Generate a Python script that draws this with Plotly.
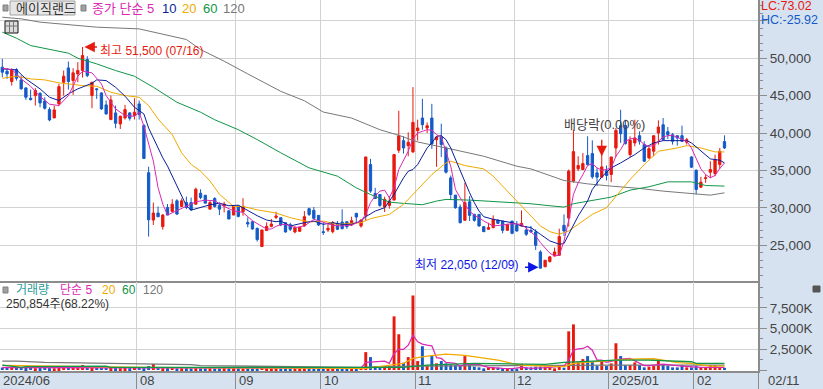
import plotly.graph_objects as go

open_ = [48800,48260,46880,48480,47100,46030,44650,45000,45300,44290,43130,42020,43890,46790,48700,47010,47900,48350,49820,45000,
45900,45360,43760,41790,42690,41210,42020,42690,42330,43890,41000,34690,28360,29300,27480,30040,29510,30930,30180,30700,
30700,30480,31950,31680,29820,31240,30350,30260,29600,29030,30260,29470,28050,28140,27260,24820,26950,27520,28720,28680,
28010,27750,26770,26860,27570,29880,29660,28990,26800,27030,26810,27920,28100,28140,27700,29250,27570,28990,35780,31920,
31780,30100,30320,31030,37690,38980,38310,37470,40310,42000,40670,42000,39110,39470,38000,34000,31700,30100,28320,30810,
29120,29120,27480,27120,27350,28370,28230,26990,28230,27660,27570,27030,26990,26770,24100,22110,22820,23570,23660,27660,
28630,33560,35210,35120,36980,37250,34670,34100,34940,34450,38000,40980,41020,37110,38670,39640,38450,36670,37560,40000,
41110,40180,39780,39640,39640,38760,36800,35030,32760,33920,34760,34580,35780,38850]
high = [49900,48660,48660,48660,47680,46100,45800,46000,45450,44780,43440,43670,46570,48350,49550,48660,49460,51500,50270,46790,
46000,45450,44340,45000,43670,42330,43760,42780,44650,44340,41200,35490,30700,30180,29160,30500,31150,31150,31240,31500,
31370,32700,32480,31680,30930,31420,30700,30800,29730,30350,30350,31280,28720,28270,27350,27040,28050,28500,29470,28680,
28010,28010,27570,27390,29560,30010,30100,28990,28010,28010,28230,28230,29790,28140,28810,29340,28460,36800,36540,32670,
31780,31480,31560,37110,42970,39560,40090,46130,41780,44570,41420,43900,39470,41240,38220,34320,31700,30450,33340,31560,
29210,29120,27480,28010,28990,28370,28230,27790,28230,28230,29650,27570,27570,27120,24330,22990,23570,24680,27210,29120,
35120,40440,36890,37340,39560,39020,35340,37250,35650,36800,40670,43110,41780,39560,41780,40220,38890,38220,39640,41690,
42000,40800,40000,39640,40980,39330,36890,35120,34140,34450,36230,37110,38000,39690]
low = [47460,47230,46340,47010,45800,44420,44340,43670,43440,43130,41570,41980,43580,45000,45800,45100,46790,47410,47460,43310,
44560,43090,42460,41750,40630,40540,41800,41660,41800,41800,36600,26150,27700,28800,27080,29030,29380,29030,30180,29820,
29600,30480,31150,30620,29820,30040,29030,29380,28500,29030,28720,28940,27390,27080,25490,24820,26950,27390,28500,27550,
26680,26900,26590,26770,27480,28900,28590,27570,26370,26770,26590,27030,27120,27210,27570,28100,27350,28230,32010,31250,
30140,29430,29880,31030,37340,37250,36890,37340,38980,40440,40000,37870,35470,36800,34580,31030,29880,27920,28320,28230,
28140,27480,26770,27120,27260,27920,26590,26900,26460,26810,27570,26240,26680,24370,21930,22110,22680,23480,23570,26240,
27480,33340,34900,35030,35650,33870,32900,34100,33650,33430,36800,38670,38450,36800,38220,38450,36140,36540,36890,38450,
39020,39200,38450,38310,38800,38450,35340,31790,32670,33340,34010,34230,35200,37870]
close = [48130,47900,48480,47320,45900,44780,44470,45670,44020,43310,41750,43090,46200,47590,46880,48040,48350,50360,47680,46790,
45800,43220,42550,44420,41300,42240,43130,41970,42780,42460,36600,28400,29300,28800,29030,29030,30480,29160,30930,30040,
29730,32480,31370,30620,30700,30180,29820,30480,28500,30180,28850,30180,27830,27170,25750,27040,27520,27830,28900,27700,
26770,27120,27350,27390,28810,29120,28590,27700,26700,27260,28010,27120,27210,27480,28280,28770,28370,36800,32230,31250,
30320,31120,30900,37110,39640,38000,38760,41420,40670,41110,40980,38530,39470,38450,34760,31780,30010,28010,30680,28990,
28320,27570,26810,27350,28460,27920,26990,27790,26590,26900,27920,26460,26770,24990,21930,22990,23440,24100,26150,26900,
34900,37510,35650,35910,35780,34140,34100,35470,34320,36800,40350,39910,38580,39020,39330,38890,36230,37910,39640,40800,
39110,39780,38890,39330,38890,39110,35430,32450,33430,34010,35120,36450,37560,38000]

volume = [300,280,320,250,260,240,280,220,240,260,230,210,240,260,280,250,270,600,260,240,
260,280,250,240,230,220,240,230,260,250,230,480,720,260,230,240,250,220,230,240,
220,240,210,220,230,200,210,240,220,230,210,200,220,210,220,260,240,210,200,220,
190,210,200,190,220,230,210,200,190,210,220,200,210,190,200,230,260,2160,1560,480,
480,480,400,6480,4320,880,1560,9000,1080,2870,520,1720,800,1080,800,600,600,480,1680,720,
400,320,200,320,320,280,200,200,120,160,720,320,320,400,400,400,320,200,480,280,
4670,5510,920,1320,1680,1000,480,1080,480,800,3230,1680,600,600,920,600,320,400,480,1320,
680,480,320,320,600,320,320,480,320,320,600,600,320,250]

ma5_i = [0,2,3,4,6,8,10,12,14,16,17,19,21,22,24,26,28,29,30,31,32,33,34,35,37,39,41,43,45,47,49,51,53,55,56,57,58,59,
60,62,64,66,68,70,72,74,76,77,78,79,80,81,82,83,84,85,86,87,88,89,90,91,92,93,94,95,96,97,98,99,100,101,102,103,104,106,108,110,112,113,
114,115,116,117,118,119,120,121,122,123,124,125,126,127,128,129,130,131,132,133,134,135,136,137,138,139,140,141,142,143,144,145,146,147,148,149,150,151,152,153]
ma5_v = [48660,48480,47900,47230,46250,44870,43850,43670,45000,47590,48260,48040,46570,45000,43220,42330,42240,42780,40900,38450,36240,32700,30490,29030,29600,30180,30800,31020,30930,30180,29600,29380,28270,27520,27170,27170,27520,27740,
27790,27350,27570,28460,28010,27660,27570,27700,28230,29120,30680,31560,32230,32360,31340,32670,35120,36450,37560,39200,40000,40220,40440,40360,39780,39470,37560,35560,32450,31340,30450,29560,28990,28680,28230,27880,27570,27700,27880,27790,26770,26240,
25350,24590,23930,23570,23660,25570,28370,31790,33340,34450,35650,35920,35340,35030,35120,35340,36890,37780,38890,39200,39330,39020,38450,38220,38310,38890,39470,39640,39690,39420,39200,38890,38000,36670,35200,34450,34010,34320,35250,36000]
ma10_i = [0,3,5,8,10,12,14,16,19,20,22,24,26,28,30,31,32,33,34,35,36,37,38,39,40,42,44,46,48,50,52,54,56,58,59,61,64,66,68,70,72,74,76,77,79,81,83,84,85,86,87,88,89,90,91,92,93,94,95,96,97,98,99,100,101,102,104,106,108,110,112,114,116,118,119,120,122,124,125,127,129,131,134,136,138,140,142,145,146,148,150,152,153]
ma10_v = [48570,48440,47230,45900,44780,44340,45230,45900,46650,47100,47010,46120,44920,43440,42550,40660,39340,38010,36680,35580,34250,32700,31370,30270,29690,30040,30400,30620,30270,30350,29600,28940,28360,28140,28230,27570,28010,28230,27790,28010,27790,27790,28230,28810,29560,30010,31790,32900,34000,34890,35120,35780,36890,38000,38670,39560,39640,39110,38000,36450,34890,33340,32010,30680,29560,28810,28460,28230,28010,27570,27350,26460,25570,25130,25220,26460,28900,30900,32450,34140,35340,36000,37110,38000,38670,38980,39020,38980,38670,37560,36540,36360,36000]
ma20_i = [0,3,6,9,12,15,17,20,23,26,29,31,33,36,38,40,42,44,46,49,51,54,58,61,65,68,71,76,78,82,85,88,91,94,95,98,102,104,107,110,112,114,116,118,120,122,125,128,130,133,136,139,143,145,148,151,153]
ma20_v = [47320,47590,47230,47100,46700,46430,46340,46250,45450,45000,44780,43670,41880,39780,37350,35800,34900,33590,31810,30180,30180,29730,29300,28680,28100,28230,27790,28010,28550,29120,30450,32450,34450,36000,36230,35650,35200,34230,32230,30230,28990,27570,26810,26460,26900,27790,29120,30010,31560,33780,35780,37560,38000,38310,38000,37470,37470]
ma60_i = [0,3,6,10,14,16,20,24,28,32,37,42,45,50,54,59,65,71,75,78,82,85,89,92,94,99,103,107,112,116,119,121,125,129,133,137,141,146,149,153]
ma60_v = [53480,52680,51690,51160,50670,50000,49240,48350,47590,46120,44110,42780,41770,40440,39120,37350,35340,34230,32670,31780,30760,30590,30410,30900,31120,31030,30900,30680,30540,30270,30100,30540,30990,31430,32360,32810,33470,33470,32980,32900]
ma120_i = [0,4,8,14,20,29,32,39,42,47,52,59,64,68,74,80,84,88,95,102,109,112,119,124,129,135,140,145,147,150,153]
ma120_v = [55480,55260,54820,54460,54150,53920,53480,52500,51160,49600,47900,45570,44310,42800,42000,40440,39690,38800,37870,36890,35560,35200,33650,33200,32900,32590,32230,32000,31870,31690,32000]

vma5_i = [0,20,40,60,76,77,80,81,82,83,84,85,86,87,88,89,90,91,92,93,94,95,96,97,98,100,101,102,103,106,108,110,112,115,118,119,120,121,122,123,124,125,126,127,128,130,131,133,134,135,136,137,140,144,148,153]
vma5_v = [300,260,240,230,220,920,1000,1080,800,2000,2480,2480,3000,4200,3400,3120,3000,2920,1480,1400,920,880,800,480,680,720,680,480,320,200,160,320,200,280,400,480,1200,2400,2560,2600,2880,2400,1200,1200,920,1200,1320,1400,1080,800,520,520,700,480,320,320]
vma20_i = [0,12,30,50,75,77,85,87,90,94,98,103,105,108,110,115,119,121,124,127,130,133,138,140,143,146,150,153]
vma20_v = [560,450,320,260,200,200,800,1400,1680,1920,1760,1320,1200,800,600,480,400,800,960,1080,1200,1320,1360,1200,880,800,480,480]
vma60_i = [0,4,5,22,23,40,75,85,90,100,115,119,130,137,146,147,153]
vma60_v = [600,320,400,480,320,320,320,320,600,800,680,920,1200,1200,1000,800,800]
vma120_i = [0,3,9,28,40,42,49,62,76,86,120,130,153]
vma120_v = [1080,1080,920,800,640,520,480,320,320,480,600,600,600]

month_ticks = [29, 50, 68, 88, 109, 129, 147]
month_labels = ["08", "09", "10", "11", "12", "2025/01", "02"]
first_label = "2024/06"
last_label = "02/11"
price_ticks = [25000, 30000, 35000, 40000, 45000, 50000, 55000]
price_labels = ["25,000", "30,000", "35,000", "40,000", "45,000", "50,000", ""]
vol_ticks = [0, 2500, 5000, 7500]
vol_labels = ["", "2,500K", "5,000K", "7,500K"]

W, H = 823, 389
PLOT_R = 758
RED, BLUE = "#e8190e", "#145ac8"
MAG, NAVY, ORG, GRN, GRY = "#dc28b4", "#0a1e9b", "#f0aa00", "#0f9646", "#787878"
GRID, AXC = "#d2d2d2", "#8c8c8c"
FONT = "Liberation Sans, Noto Sans CJK KR"
PX = lambda x: x / W
PY = lambda y: 1 - y / H

idx = list(range(len(close)))
x_min = -0.487
x_max = 160.1
edge = [t - 0.5 for t in month_ticks]

fig = go.Figure()
fig.add_trace(go.Candlestick(
    x=idx, open=open_, high=high, low=low, close=close, xaxis="x", yaxis="y",
    increasing=dict(line=dict(color=RED, width=1), fillcolor=RED),
    decreasing=dict(line=dict(color=BLUE, width=1), fillcolor=BLUE),
    whiskerwidth=0, showlegend=False, hoverinfo="skip"))
for xs, ys, c in [(ma120_i, ma120_v, GRY), (ma60_i, ma60_v, GRN), (ma20_i, ma20_v, ORG), (ma10_i, ma10_v, NAVY), (ma5_i, ma5_v, MAG)]:
    fig.add_trace(go.Scatter(x=xs, y=ys, mode="lines", line=dict(color=c, width=1), xaxis="x", yaxis="y", showlegend=False, hoverinfo="skip"))
fig.add_trace(go.Bar(x=idx, y=volume, width=0.62, marker=dict(color=[RED if c >= o else BLUE for o, c in zip(open_, close)], line=dict(width=0)),
                     xaxis="x2", yaxis="y2", showlegend=False, hoverinfo="skip"))
for xs, ys, c in [(vma120_i, vma120_v, GRY), (vma5_i, vma5_v, MAG), (vma20_i, vma20_v, ORG), (vma60_i, vma60_v, GRN)]:
    fig.add_trace(go.Scatter(x=xs, y=ys, mode="lines", line=dict(color=c, width=1.3), xaxis="x2", yaxis="y2", showlegend=False, hoverinfo="skip"))

ann = []
def text(x, y, s, color, size=12.5, anchor="left"):
    ann.append(dict(x=PX(x), y=PY(y), xref="paper", yref="paper", text=s, showarrow=False, xanchor=anchor, yanchor="middle",
                    font=dict(family=FONT, size=size, color=color)))

text(14, 8.5, "에이직랜드", "#333333", 13)
text(90, 8.5, "종가 단순 5", MAG, 13)
text(160, 8.5, "10", NAVY, 13)
text(180, 8.5, "20", ORG, 13)
text(201, 8.5, "60", GRN, 13)
text(221, 8.5, "120", GRY, 13)
text(14, 289.5, "거래량", "#2a9a9a", 12)
text(58, 289.5, "단순 5", MAG, 12)
text(100, 289.5, "20", ORG, 12)
text(120, 289.5, "60", GRN, 12)
text(141, 289.5, "120", GRY, 12)
text(4, 304, "250,854주(68.22%)", "#333333", 12)
text(759, 6.5, "LC:73.02", RED, 12.5)
text(759, 19.5, "HC:-25.92", BLUE, 12.5)
text(562, 124, "배당락(0.00%)", "#444444", 13)

def arrow(xi, yp, s, color, ax, anchor_txt_x):
    ann.append(dict(x=xi, y=yp, xref="x", yref="y", text="", showarrow=True, ax=ax, ay=0, axref="pixel", ayref="pixel",
                    arrowhead=2, arrowsize=1.6, arrowwidth=1.3, arrowcolor=color))
    text(anchor_txt_x[0], anchor_txt_x[1], s, color, 12)

arrow(17.4, 51500, "최고 51,500 (07/16)", RED, 14, (98, 51))
arrow(113.6, 22050, "최저 22,050 (12/09)", "#0a14e6", -15, (413, 265))
ann.append(dict(x=127, y=36900, xref="x", yref="y", text="", showarrow=True, ax=0, ay=-18, axref="pixel", ayref="pixel",
                arrowhead=2, arrowsize=1.6, arrowwidth=1.3, arrowcolor=RED))

# bottom axis labels
ann.append(dict(x=x_min, y=PY(380), xref="x2", yref="paper", text=first_label, showarrow=False, xanchor="left", yanchor="middle", xshift=1,
                font=dict(family=FONT, size=13, color="#444444")))
for e, l in zip(edge, month_labels):
    ann.append(dict(x=e, y=PY(380), xref="x2", yref="paper", text=l, showarrow=False, xanchor="left", yanchor="middle", xshift=1,
                    font=dict(family=FONT, size=13, color="#444444")))
ann.append(dict(x=x_max, y=PY(380), xref="x2", yref="paper", text=last_label, showarrow=False, xanchor="left", yanchor="middle", xshift=8,
                font=dict(family=FONT, size=13, color="#444444")))

shapes = []
def rect(x0, y0, x1, y1, fill, line=None, lw=1):
    shapes.append(dict(type="rect", xref="paper", yref="paper", x0=PX(x0), x1=PX(x1), y0=PY(y0), y1=PY(y1), fillcolor=fill,
                       line=dict(color=line or fill, width=lw), layer="above"))
rect(3, 5, 8, 11, "#a0a0a0", "#808080")
rect(10, 1, 75, 15, "#e6e6e6", "#a0a0a0")
rect(81, 5, 86, 11, "#a0a0a0", "#808080")
rect(5, 21, 18, 33, "#dcdcdc", "#111111", 1)
for gx in (9.5, 13.5):
    shapes.append(dict(type="line", xref="paper", yref="paper", x0=PX(gx), x1=PX(gx), y0=PY(22), y1=PY(32), line=dict(color="#777777", width=1), layer="above"))
shapes.append(dict(type="line", xref="paper", yref="paper", x0=PX(6), x1=PX(17), y0=PY(26), y1=PY(26), line=dict(color="#777777", width=1), layer="above"))
rect(3, 287, 8, 293, "#a0a0a0", "#808080")
rect(813, 286, 820, 292, "#555555")

minor_price = dict(dtick=1000, ticklen=3, ticks="outside", tickcolor=AXC, showgrid=False)
minor_vol = dict(dtick=1250, ticklen=3, ticks="outside", tickcolor=AXC, showgrid=False)
tickfont = dict(family="Liberation Sans", size=13.5, color="#444444")

fig.update_layout(
    width=W, height=H, margin=dict(l=0, r=0, t=0, b=0), autosize=False,
    paper_bgcolor="#d6e2f0", plot_bgcolor="#ffffff", showlegend=False, hovermode=False, barmode="overlay",
    annotations=ann, shapes=shapes,
    xaxis=dict(domain=[0, PX(PLOT_R)], range=[x_min, x_max], anchor="y", rangeslider=dict(visible=False), tickmode="array", tickvals=edge,
               showticklabels=False, ticks="", showgrid=True, gridcolor=GRID, gridwidth=1, zeroline=False, showline=True, linecolor=AXC, linewidth=2),
    yaxis=dict(domain=[PY(281), 1], range=[20214, 57781], side="right", anchor="x", tickmode="array", tickvals=price_ticks, ticktext=price_labels,
               ticks="outside", ticklen=7, tickcolor=AXC, tickfont=tickfont, minor=minor_price, showgrid=True, gridcolor=GRID, gridwidth=1,
               zeroline=False, showline=True, linecolor=AXC, linewidth=2),
    xaxis2=dict(domain=[0, PX(PLOT_R)], range=[x_min, x_max], anchor="y2", tickmode="array", tickvals=edge + [x_max], showticklabels=False,
                ticks="outside", ticklen=18, tickcolor=AXC, tickwidth=1, showgrid=True, gridcolor=GRID, gridwidth=1, zeroline=False, showline=True, linecolor=AXC, linewidth=2),
    yaxis2=dict(domain=[PY(371), PY(282)], range=[-120, 10630], side="right", anchor="x2", tickmode="array", tickvals=vol_ticks, ticktext=vol_labels,
                ticks="outside", ticklen=7, tickcolor=AXC, tickfont=tickfont, minor=minor_vol, showgrid=True, gridcolor=GRID, gridwidth=1,
                zeroline=False, showline=True, linecolor=AXC, linewidth=2),
)
fig.write_html("out.html", config={"displayModeBar": False}, post_script="document.body.style.margin='0';document.body.style.overflow='hidden';")
